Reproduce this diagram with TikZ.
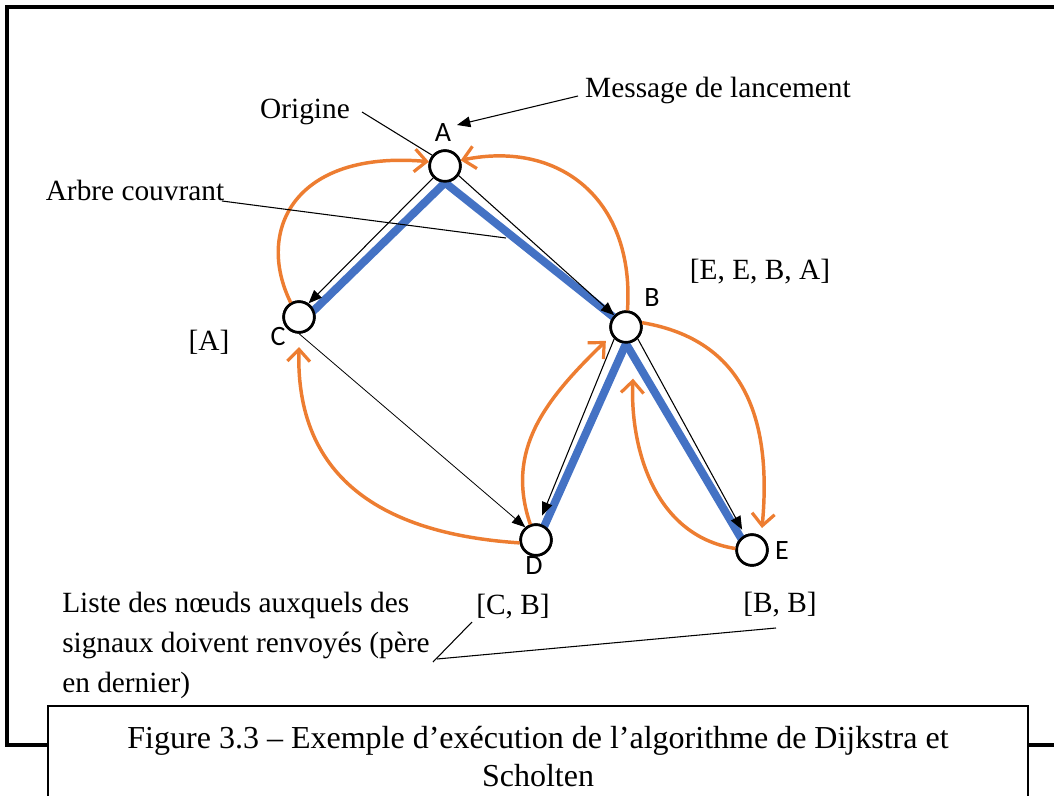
\documentclass[tikz,border=0pt]{standalone}
\usepackage{fontspec}
\setmainfont{Liberation Serif}
\newfontfamily\labfont{Carlito}
\usetikzlibrary{arrows.meta}
\definecolor{tblue}{HTML}{4472C4}
\definecolor{torange}{HTML}{ED7D31}
\begin{document}
\begin{tikzpicture}[x=0.75pt,y=-0.75pt,
  vert/.style={circle,draw,fill=white,line width=2pt,minimum size=23pt,inner sep=0pt},
  vlab/.style={font=\labfont\fontsize{21}{24}\selectfont,inner sep=0pt},
  txt/.style={font=\fontsize{22}{30}\selectfont,inner sep=0pt},
  tree/.style={tblue,line width=6pt},
  msgarrow/.style={black,line width=0.8pt,-{Triangle[length=10pt,width=8pt]}},
  signal/.style={torange,line width=2.6pt,-{Straight Barb[length=9pt,width=17pt,line width=2.4pt]}},
  note/.style={black,line width=0.8pt}]
\useasboundingbox (0,0) rectangle (1054,796);
% outer frame
\draw[line width=2.4pt] (1060,7) -- (7,7) -- (7,745) -- (48,745);
\draw[line width=2.4pt] (1028,745) -- (1060,745);
% vertices
\node[vert] (A) at (445,166) {};
\node[vert] (B) at (626,327) {};
\node[vert] (C) at (299,317) {};
\node[vert] (D) at (536,540) {};
\node[vert] (E) at (752,550) {};
% spanning tree (behind the vertices)
\draw[tree] (A.south) -- ([shift={(3,5)}]C.center);
\draw[tree] (A.south) -- (B.center);
\draw[tree] (B.south) -- ([shift={(3,-2)}]D.center);
\draw[tree] (B.south) -- ([shift={(-4,0)}]E.center);
% redraw vertices on top
\node[vert] at (A) {};
\node[vert] at (B) {};
\node[vert] at (C) {};
\node[vert] at (D) {};
\node[vert] at (E) {};
\node[vlab] (lA) at (443,133) {A};
\node[vlab] (lB) at (652,298) {B};
\node[vlab] (lC) at (278,337) {C};
\node[vlab] (lD) at (534,566) {D};
\node[vlab] (lE) at (782,551) {E};
% messages
\draw[msgarrow] (A.225) -- (C.55);
\draw[msgarrow] (A.-35) -- (B.135);
\draw[msgarrow,shorten >=6.5pt] (B.225) -- (D.80);
\draw[msgarrow,shorten >=4.5pt] (B.-45) -- (E.115);
\draw[line width=0.6pt,-{Triangle[length=10pt,width=8pt]}] (C.-90) -- (D.130);
% signals
\draw[signal] (C.120) .. controls (255,230) and (295,150) .. (A.165);
\draw[signal] (B.85) .. controls (635,200) and (560,140) .. (A.20);
\draw[signal] (B.15) .. controls (745,340) and (772,420) .. ([shift={(10,-22)}]E.center);
\draw[signal] (E.175) .. controls (650,535) and (630,440) .. ([shift={(7,35)}]B.south);
\draw[signal,shorten >=6pt] (D.110) .. controls (505,450) and (545,400) .. (B.-150);
\draw[signal] (D.190) .. controls (400,535) and (295,490) .. ([yshift=-10pt]C.-90);
% annotations
\node[txt] (orig) at (305,112) {Origine};
\coordinate (origS) at (362,112);
\draw[note] (origS) -- (A.140);
\node[txt] (msg) at (718,90) {Message de lancement};
\coordinate (msgS) at (578,96);
\coordinate (msgT) at (457,125);
\draw[msgarrow] (msgS) -- (msgT);
\node[txt] (arbre) at (135,190) {Arbre couvrant};
\coordinate (arbreS) at (222,201);
\coordinate (arbreT) at (506,238);
\draw[note] (arbreS) -- (arbreT);
\node[txt] (lstB) at (760,272) {[E, E, B, A]};
\node[txt] (lstC) at (209,342) {[A]};
\node[txt] (lstD) at (513,607) {[C, B]};
\node[txt] (lstE) at (780,605) {[B, B]};
\node[txt,align=left,anchor=north west] (liste) at (62,592) {Liste des nœuds auxquels des\\signaux doivent renvoyés (père\\en dernier)};
\coordinate (l1S) at (433,662);
\coordinate (l1T) at (472,622);
\coordinate (l2S) at (437,659);
\coordinate (l2T) at (776,628);
\draw[note] (l1S) -- (l1T);
\draw[note] (l2S) -- (l2T);
% caption
\draw[line width=0.8pt,fill=white] (48,820) rectangle (1028,706);
\node[txt,font=\fontsize{24}{28.5}\selectfont,align=center] (cap) at (538,757) {Figure 3.3 – Exemple d’exécution de l’algorithme de Dijkstra et\\Scholten};
\end{tikzpicture}
\end{document}
